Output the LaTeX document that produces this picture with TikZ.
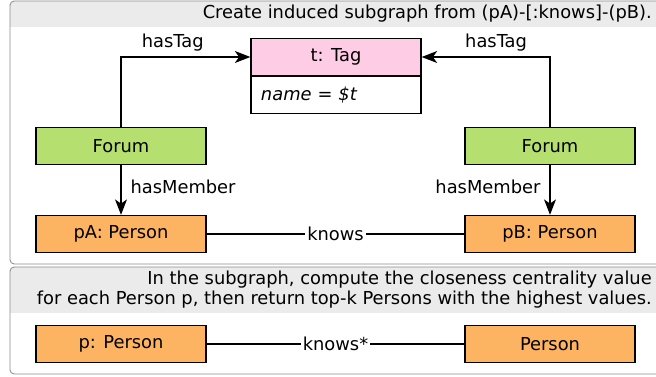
\documentclass[tikz,border=0pt]{standalone}
\usepackage{fontspec}
\setmainfont{DejaVu Sans}
\usetikzlibrary{arrows.meta,positioning}

\definecolor{tagpink}{HTML}{FFCCE6}
\definecolor{forumgreen}{HTML}{B5DF6E}
\definecolor{personorange}{HTML}{FDB462}
\definecolor{headgray}{HTML}{EBEBEB}
\definecolor{framegray}{HTML}{8C8C8C}

\begin{document}
\begin{tikzpicture}[x=0.025cm, y=-0.025cm,
        font=\fontsize{12.7}{14.2}\selectfont,
        box/.style={draw, line width=0.9pt, minimum width=4.25cm, minimum height=0.925cm, inner sep=0pt},
        tagbox/.style={box, fill=tagpink},
        forumbox/.style={box, fill=forumgreen},
        personbox/.style={box, fill=personorange},
        edge/.style={line width=0.9pt},
        arr/.style={edge, -{Stealth[length=11pt, width=8.5pt, inset=3pt]}},
        lbl/.style={fill=white, inner sep=1.5pt},
        panel/.style={framegray, line width=0.6pt, rounded corners=3pt},
        headtext/.style={anchor=east, align=right, inner sep=0pt}
        ]
        \useasboundingbox (0,0) rectangle (656,376);
        \clip (0,0) rectangle (656,376);

        % panels
        \begin{scope}
            \clip[rounded corners=3pt] (10,1) rectangle (690,264);
            \fill[headgray] (10,1) rectangle (690,27);
        \end{scope}
        \draw[panel] (10,1) rectangle (690,264);
        \node[headtext] (head1) at (652,14) {Create induced subgraph from (pA)-[:knows]-(pB).};

        \begin{scope}
            \clip[rounded corners=3pt] (10,267) rectangle (690,374);
            \fill[headgray] (10,267) rectangle (690,313);
        \end{scope}
        \draw[panel] (10,267) rectangle (690,374);
        \node[headtext] (head2) at (652,290) {In the subgraph, compute the closeness centrality value\\for each Person p, then return top-k Persons with the highest values.};

        % nodes
        \node[tagbox] (tag) at (336,57) {t: Tag};
        \node[box, fill=white, below=0pt of tag, inner xsep=0.25cm, text width=3.75cm, align=left] (tagname) {\itshape name = \$t};

        \node[forumbox] (forumA) at (121,146) {Forum};
        \node[forumbox] (forumB) at (550,146) {Forum};
        \node[personbox] (pA) at (121,234) {pA: Person};
        \node[personbox] (pB) at (550,234) {pB: Person};
        \node[personbox] (p) at (121,344) {p: Person};
        \node[personbox] (q) at (550,344) {Person};

        % edges
        \draw[arr] (forumA.north) |- (tag.west) node[pos=0.7, above] {hasTag};
        \draw[arr] (forumB.north) |- (tag.east) node[pos=0.71, above] {hasTag};
        \draw[arr] (forumA.south) -- (pA.north) node[pos=0.43, right, xshift=3pt] {hasMember};
        \draw[arr] (forumB.south) -- (pB.north) node[pos=0.43, left, xshift=-3pt] {hasMember};
        \draw[edge] (pA) -- (pB) node[midway, lbl] {knows};
        \draw[edge] (p) -- (q) node[midway, lbl] {knows*};

\end{tikzpicture}
\end{document}
